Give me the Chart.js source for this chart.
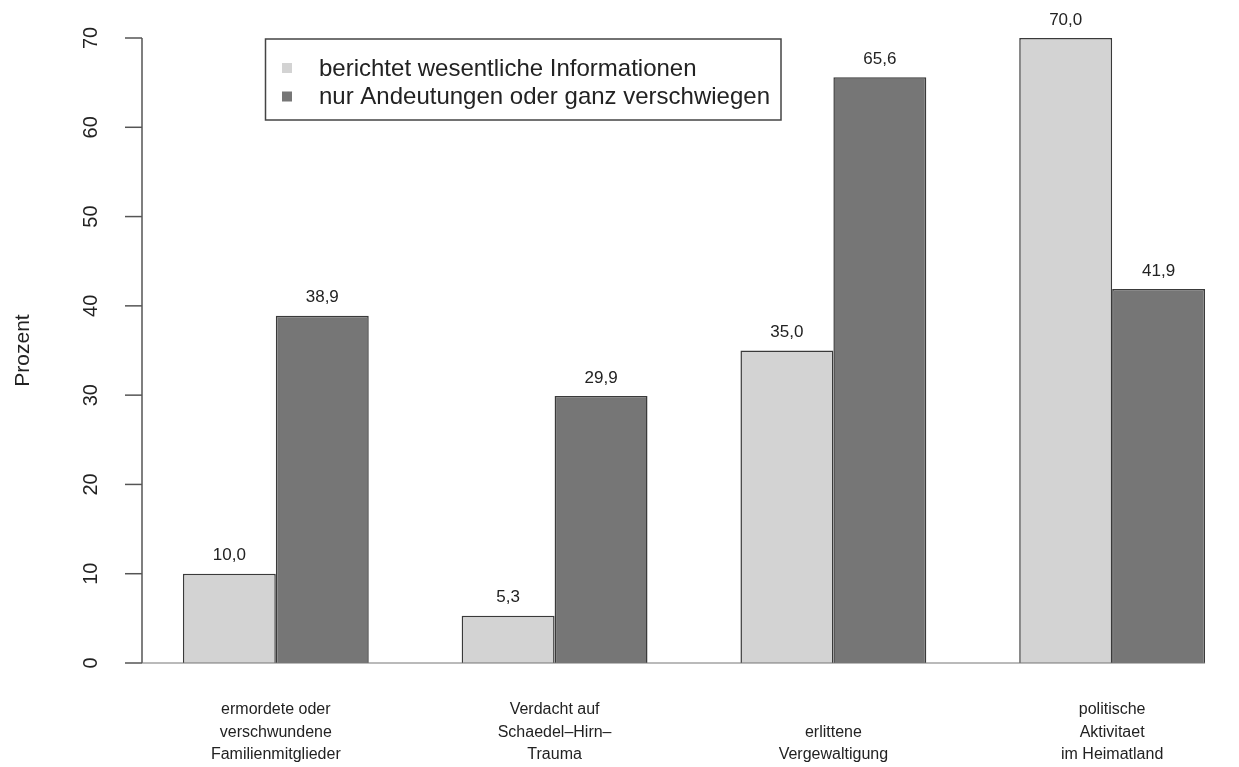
<!DOCTYPE html>
<html>
<head>
<meta charset="utf-8">
<script src="https://cdn.jsdelivr.net/npm/chart.js@4.4.1/dist/chart.umd.min.js"></script>
<style>
  html, body { margin: 0; padding: 0; background: #fff; overflow: hidden; }
  #wrap { width: 1239px; height: 767px; }
</style>
</head>
<body>
<div id="wrap"><canvas id="chart" width="1239" height="767"></canvas></div>
<script>
// categories (multi-line x labels)
const categories = [
  ['ermordete oder', 'verschwundene', 'Familienmitglieder'],
  ['Verdacht auf', 'Schaedel\u2013Hirn\u2013', 'Trauma'],
  ['erlittene', 'Vergewaltigung'],
  ['politische', 'Aktivitaet', 'im Heimatland']
];
const seriesNames = ['berichtet wesentliche Informationen', 'nur Andeutungen oder ganz verschwiegen'];
const berichtet = [10.0, 5.3, 35.0, 70.0];
const verschwiegen = [38.9, 29.9, 65.6, 41.9];
const yTicks = [0, 10, 20, 30, 40, 50, 60, 70];
const yTitle = 'Prozent';

const lightGrey = '#d3d3d3';
const darkGrey = '#767676';
const textColor = '#222';
const fontFamily = '"Liberation Sans", Arial, Helvetica, sans-serif';

function toPoints(values) {
  return values.map((v, i) => ({ x: i + 1, y: v }));
}

// axes, labels and legend drawn R-style
const rStyle = {
  id: 'rStyle',
  afterDraw(chart) {
    const ctx = chart.ctx;
    const area = chart.chartArea;
    const ys = chart.scales.y;
    const xs = chart.scales.x;
    ctx.save();

    // y axis
    const ax = area.left;
    ctx.strokeStyle = '#555';
    ctx.lineWidth = 1.5;
    ctx.beginPath();
    ctx.moveTo(ax, ys.getPixelForValue(yTicks[0]));
    ctx.lineTo(ax, ys.getPixelForValue(yTicks[yTicks.length - 1]));
    ctx.stroke();
    ctx.fillStyle = textColor;
    ctx.font = '20px ' + fontFamily;
    ctx.textAlign = 'center';
    ctx.textBaseline = 'middle';
    yTicks.forEach(t => {
      const py = ys.getPixelForValue(t);
      ctx.beginPath();
      ctx.moveTo(ax - 17, py);
      ctx.lineTo(ax, py);
      ctx.stroke();
      ctx.save();
      ctx.translate(ax - 51, py);
      ctx.rotate(-Math.PI / 2);
      ctx.fillText(String(t), 0, 0);
      ctx.restore();
    });

    // y title
    ctx.save();
    ctx.font = '21px ' + fontFamily;
    ctx.translate(23, (area.top + area.bottom) / 2);
    ctx.rotate(-Math.PI / 2);
    ctx.fillText(yTitle, 0, 0);
    ctx.restore();

    // baseline
    const lastMeta = chart.getDatasetMeta(1);
    const lastBar = lastMeta.data[lastMeta.data.length - 1];
    ctx.strokeStyle = '#777';
    ctx.lineWidth = 1.2;
    ctx.beginPath();
    ctx.moveTo(ax, ys.getPixelForValue(0));
    ctx.lineTo(lastBar.x + lastBar.width / 2, ys.getPixelForValue(0));
    ctx.stroke();

    // value labels
    ctx.fillStyle = textColor;
    ctx.font = '17px ' + fontFamily;
    ctx.textBaseline = 'middle';
    chart.data.datasets.forEach((ds, di) => {
      chart.getDatasetMeta(di).data.forEach((bar, i) => {
        const v = ds.data[i].y;
        ctx.fillText(v.toFixed(1).replace('.', ','), bar.x, bar.y - 18);
      });
    });

    // x category labels, bottom aligned
    ctx.font = '16px ' + fontFamily;
    const lineH = 22.5;
    const lastLineY = 755;
    categories.forEach((lines, i) => {
      const cx = xs.getPixelForValue(i + 1);
      lines.forEach((ln, j) => {
        ctx.fillText(ln, cx, lastLineY - (lines.length - 1 - j) * lineH);
      });
    });

    // legend
    const lx = 265.5, ly = 39, lw = 515.5, lh = 81;
    ctx.fillStyle = '#fff';
    ctx.fillRect(lx, ly, lw, lh);
    ctx.strokeStyle = '#444';
    ctx.lineWidth = 1.5;
    ctx.strokeRect(lx, ly, lw, lh);
    ctx.font = '24px ' + fontFamily;
    ctx.textAlign = 'left';
    const legendColors = [lightGrey, darkGrey];
    seriesNames.forEach((name, k) => {
      const cy = 68 + k * 28.5;
      ctx.fillStyle = legendColors[k];
      ctx.fillRect(282, cy - 5, 10, 10);
      ctx.fillStyle = textColor;
      ctx.fillText(name, 319, cy + 1);
    });

    ctx.restore();
  }
};

new Chart(document.getElementById('chart'), {
  type: 'bar',
  data: {
    datasets: [
      { label: seriesNames[0], data: toPoints(berichtet), backgroundColor: lightGrey, borderColor: '#3a3a3a', borderWidth: 1.5 },
      { label: seriesNames[1], data: toPoints(verschwiegen), backgroundColor: darkGrey, borderColor: '#3a3a3a', borderWidth: 1.5 }
    ]
  },
  options: {
    responsive: false,
    animation: false,
    layout: { padding: { left: 142, right: 0, top: 13, bottom: 79 } },
    datasets: { bar: { categoryPercentage: 2 / 3, barPercentage: 1 } },
    plugins: { legend: { display: false }, tooltip: { enabled: false } },
    scales: {
      x: {
        type: 'linear', min: 0.52, max: 4.455, offset: false, display: false,
        // one tick per category so the bar width follows the category spacing
        afterBuildTicks: scale => { scale.ticks = categories.map((c, i) => ({ value: i + 1 })); }
      },
      y: { type: 'linear', min: -2.8, max: 72.8, display: false }
    }
  },
  plugins: [rStyle]
});
</script>
</body>
</html>
